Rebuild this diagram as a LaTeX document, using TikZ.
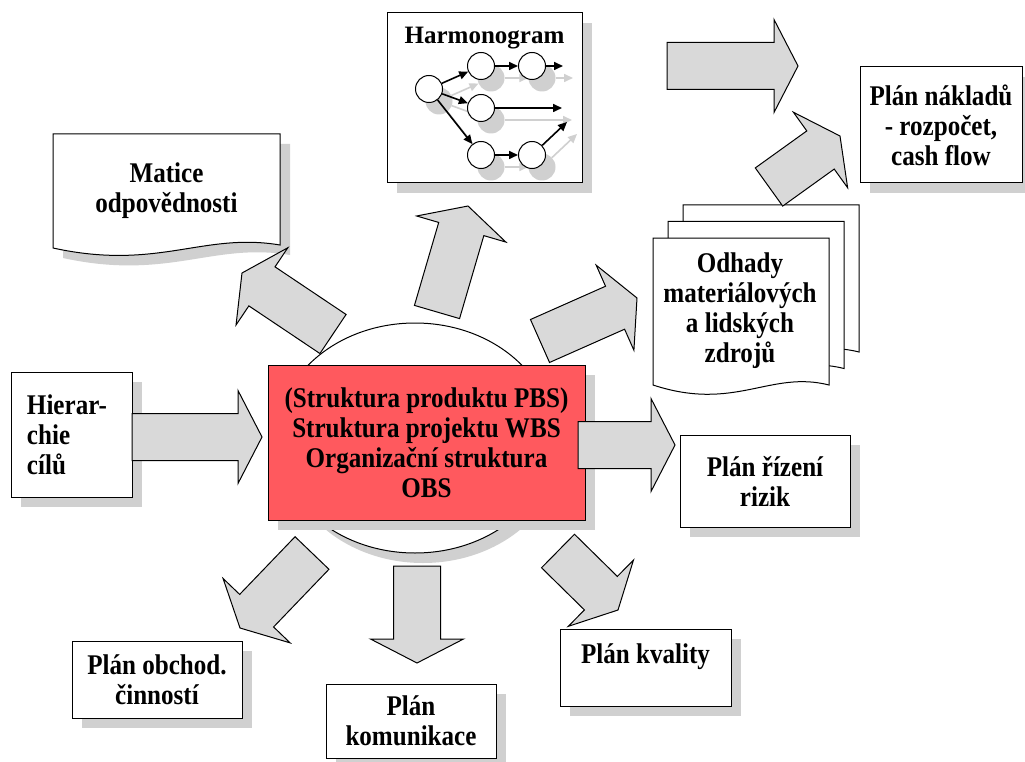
\documentclass[tikz,border=0pt]{standalone}
\usepackage{fontspec}
\setmainfont{Liberation Serif}[FakeStretch=0.88]
\newfontfamily\harmfont{Liberation Serif}
\usetikzlibrary{calc,shapes.geometric,shadows,arrows.meta}

\definecolor{shgray}{RGB}{208,208,208}
\definecolor{arrfill}{RGB}{217,217,217}
\definecolor{redfill}{RGB}{255,89,94}

\tikzset{
  txt/.style={font=\fontsize{28.5}{30}\selectfont\bfseries, align=center},
  boxsh/.style={general shadow={fill=shgray, shadow xshift=10pt, shadow yshift=-10pt}},
  box/.style={draw, line width=1pt, fill=white, inner sep=0pt, boxsh, txt},
  barrow/.style={draw, line width=1pt, fill=arrfill, line join=miter},
  hc/.style={circle, draw, line width=1pt, fill=white, minimum size=27pt, inner sep=0pt},
  hs/.style={circle, fill=shgray, minimum size=27pt, inner sep=0pt},
  harr/.style={line width=1.6pt, -{Triangle[length=9pt,width=8pt]}},
  hsarr/.style={harr, draw=shgray, color=shgray},
  pagesty/.style={draw, line width=1pt, fill=white},
}

\newcommand\blockarr[2]{%
  \coordinate (bah) at ($(#2)!24pt!(#1)$);
  \draw[barrow] ($(#1)!23.5pt!90:(#2)$) -- ($(bah)!23.5pt!90:(#2)$) -- ($(bah)!46.5pt!90:(#2)$) -- (#2) -- ($(bah)!46.5pt!-90:(#2)$) -- ($(bah)!23.5pt!-90:(#2)$) -- ($(#1)!23.5pt!-90:(#2)$) -- cycle;}

\begin{document}
\begin{tikzpicture}[x=1pt, y=-1pt]
\useasboundingbox (0,0) rectangle (1025,762);
\fill[white] (0,0) rectangle (1025,762);

% ---------- Harmonogram ----------
\node[box, minimum width=195pt, minimum height=170pt] (harm) at (484.5,98) {};
\node[font=\harmfont\fontsize{25}{28}\selectfont\bfseries, anchor=base] (harmt) at (484.5,44) {Harmonogram};
\begin{scope}[shift={(10,12)}]
  \node[hs] (s0) at (429,89) {};
  \node[hs] (s1) at (481,66) {};
  \node[hs] (s2) at (532,66) {};
  \node[hs] (s3) at (481,108) {};
  \node[hs] (s4) at (481,155) {};
  \node[hs] (s5) at (532,155) {};
  \coordinate (se2) at (563,66);
  \coordinate (se3) at (562,108);
  \coordinate (se5) at (567,122);
\end{scope}
\draw[hsarr] (s0) -- (s1);
\draw[hsarr] (s1) -- (s2);
\draw[hsarr] (s2) -- (se2);
\draw[hsarr] (s0) -- (s3);
\draw[hsarr] (s3) -- (se3);
\draw[hsarr] (s0) -- (s4);
\draw[hsarr] (s4) -- (s5);
\draw[hsarr] (s5) -- (se5);
\node[hc] (h0) at (429,89) {};
\node[hc] (h1) at (481,66) {};
\node[hc] (h2) at (532,66) {};
\node[hc] (h3) at (481,108) {};
\node[hc] (h4) at (481,155) {};
\node[hc] (h5) at (532,155) {};
\coordinate (e2) at (563,66);
\coordinate (e3) at (562,108);
\coordinate (e5) at (567,122);
\draw[harr] (h0) -- (h1);
\draw[harr] (h1) -- (h2);
\draw[harr] (h2) -- (e2);
\draw[harr] (h0) -- (h3);
\draw[harr] (h3) -- (e3);
\draw[harr] (h0) -- (h4);
\draw[harr] (h4) -- (h5);
\draw[harr] (h5) -- (e5);

% ---------- Matice odpovednosti (document shape) ----------
\fill[shgray] (63,144) -- (290,144) -- (290,255) .. controls (213,242) and (168,281) .. (63,258) -- cycle;
\draw[pagesty] (53,134) -- (280,134) -- (280,245) .. controls (203,232) and (158,271) .. (53,248) -- cycle;
\node[txt] (matice) at (166.5,191) {Matice\\odpovědnosti};

% ---------- Odhady (stack of pages) ----------
\foreach \dx/\dy in {30/-33, 15/-16.5, 0/0}{
  \begin{scope}[shift={(\dx,\dy)}]
    \draw[pagesty] (653,238) -- (829,238) -- (829,385) .. controls (770,370) and (735,412) .. (653,385) -- cycle;
  \end{scope}
}
\node[txt] (odhady) at (740,311) {Odhady\\materiálových\\a lidských\\zdrojů};

% ---------- plain boxes ----------
\node[box, minimum width=162pt, minimum height=116pt] (naklady) at (941,125) {Plán nákladů\\- rozpočet,\\cash flow};
\node[box, minimum height=125pt, text width=89pt, inner xsep=16pt, align=left] (hier) at (71.5,434.5) {Hierar-\\chie\\cílů};
\node[box, minimum width=170pt, minimum height=92pt] (rizika) at (765,481) {Plán řízení\\rizik};
\node[box, minimum width=170pt, minimum height=77pt] (obchod) at (157,679.5) {Plán obchod.\\činností};
\node[box, minimum width=170pt, minimum height=74pt] (komun) at (411,721) {Plán\\komunikace};
\node[box, minimum width=171pt, minimum height=77pt] (kval) at (645.5,667.5) {};
\node[txt, anchor=base] (kvalt) at (645.5,663) {Plán kvality};

% ---------- centre ----------
\node[ellipse, draw, line width=1pt, fill=white, minimum width=276pt, minimum height=230pt, inner sep=0pt,
      general shadow={fill=shgray, shadow xshift=8pt, shadow yshift=-10pt}] (ell) at (415,438) {};
\node[box, fill=redfill, minimum width=317pt, minimum height=155pt] (center) at (426.5,442.5)
  {(Struktura produktu PBS)\\Struktura projektu WBS\\Organizační struktura\\OBS};

% ---------- block arrows ----------
\coordinate (a1s) at (132,437);  \coordinate (a1t) at (262,437);
\coordinate (a2s) at (578,445);  \coordinate (a2t) at (675,445);
\coordinate (a3s) at (667,66);   \coordinate (a3t) at (798,66);
\coordinate (a4s) at (769,187);  \coordinate (a4t) at (840,136);
\coordinate (a5s) at (333,334);  \coordinate (a5t) at (242,273);
\coordinate (a6s) at (437,312);  \coordinate (a6t) at (468,206);
\coordinate (a7s) at (540,341);  \coordinate (a7t) at (637,298);
\coordinate (a8s) at (312,553);  \coordinate (a8t) at (240,628);
\coordinate (a9s) at (417,566);  \coordinate (a9t) at (417,663);
\coordinate (a10s) at (558,551); \coordinate (a10t) at (618,610);
\blockarr{a1s}{a1t}
\blockarr{a2s}{a2t}
\blockarr{a3s}{a3t}
\blockarr{a4s}{a4t}
\blockarr{a5s}{a5t}
\blockarr{a6s}{a6t}
\blockarr{a7s}{a7t}
\blockarr{a8s}{a8t}
\blockarr{a9s}{a9t}
\blockarr{a10s}{a10t}
\end{tikzpicture}
\end{document}
